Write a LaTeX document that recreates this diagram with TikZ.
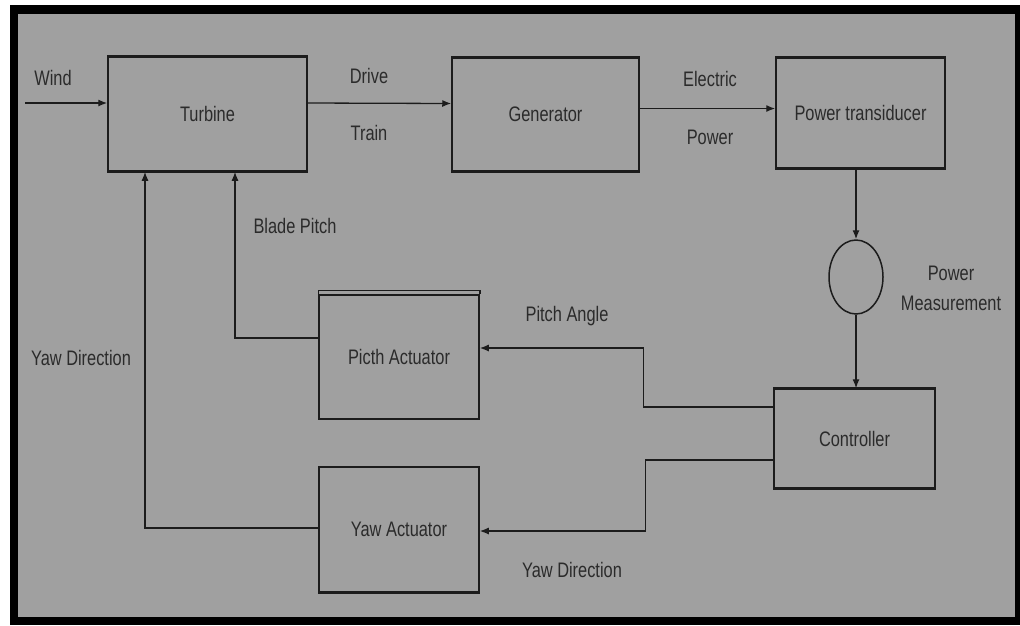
\documentclass[tikz,border=0pt]{standalone}
\usepackage{fontspec}
\setmainfont{Liberation Sans}[FakeStretch=0.78]
\usepackage{tikz}
\usetikzlibrary{arrows.meta}
\usetikzlibrary{shapes.geometric}
\usetikzlibrary{positioning}
\definecolor{mgray}{rgb}{0.627, 0.627, 0.627}
\definecolor{mline}{rgb}{0.11, 0.11, 0.11}
\definecolor{mtext}{rgb}{0.17, 0.17, 0.17}
\tikzset{blk/.style = {draw = mline, line width = 1.5, inner sep = 0, text = mtext}}
\tikzset{edge/.style = {draw = mline, line width = 3}}
\tikzset{flow/.style = {draw = mline, line width = 1.3, -{Latex[length = 9, width = 7]}}}
\tikzset{wire/.style = {draw = mline, line width = 1.3}}
\tikzset{lbl/.style = {text = mtext, inner sep = 0}}

\begin{document}
\begin{tikzpicture}[x = 1pt, y = -1pt, font = \fontsize{21}{26}\selectfont]
          \useasboundingbox (0, 0) rectangle (1020, 625);
          \fill [black] (10, 5) rectangle (1020, 625);
          \fill [mgray] (18, 14) rectangle (1015, 617);
          \node [blk, minimum width = 199, minimum height = 114] (turbine) at (207.5, 114) {Turbine};
          \node [blk, minimum width = 187, minimum height = 113] (generator) at (545.5, 114.5) {Generator};
          \node [blk, minimum width = 169, minimum height = 110] (transducer) at (860.5, 113) {Power transiducer};
          \node [blk, ellipse, minimum width = 54, minimum height = 74] (meas) at (856, 277) {};
          \node [blk, minimum width = 161, minimum height = 99] (controller) at (854.5, 438.5) {Controller};
          \node [blk, minimum width = 160, minimum height = 124] (pitch) at (399, 357) {Picth Actuator};
          \node [blk, minimum width = 160, minimum height = 125] (yaw) at (399, 529.5) {Yaw Actuator};
          \foreach \b in {turbine, transducer, controller} {
             \draw [edge] (\b.north west) -- (\b.north east);
             \draw [edge] (\b.south west) -- (\b.south east);
          }
          \draw [edge] (generator.north west) -- (generator.north east);
          \draw [edge] (generator.south west) -- (generator.south east);
          \draw [edge] (yaw.south west) -- (yaw.south east);
          \draw [blk] ([yshift = 4]pitch.north west) -- ([yshift = 4]pitch.north east) -- (pitch.north east);
          \draw [blk] ([yshift = 4]pitch.north west) -- (pitch.north west);
          \coordinate (windin) at (25, 103);
          \draw [flow] (windin) -- (windin -| turbine.west);
          \draw [flow] ([yshift = 11]turbine.east) -- ([yshift = 11]generator.west);
          \draw [flow] ([yshift = 6]generator.east) -- ([yshift = 6]generator.east -| transducer.west);
          \draw [flow] (transducer.south -| meas) -- (meas.north);
          \draw [flow] (meas.south) -- (meas.south |- controller.north);
          \draw [flow] ([yshift = 31.5]controller.west) -- ++(-130, 0) |- ([yshift = 9]pitch.east);
          \draw [flow] ([yshift = -21.5]controller.west) -- ++(-128, 0) |- ([yshift = -1.5]yaw.east);
          \draw [flow] ([yshift = 19]pitch.west) -| ([xshift = 27.5]turbine.south);
          \draw [flow] ([yshift = 1.5]yaw.west) -| ([xshift = -62.5]turbine.south);
          \node [lbl] (lwind) at (53, 78) {Wind};
          \node [lbl] (ldrive) at (369, 76) {Drive};
          \node [lbl] (ltrain) at (369, 133) {Train};
          \node [lbl] (lelec) at (710, 79) {Electric};
          \node [lbl] (lpower) at (710, 137) {Power};
          \node [lbl] (lblade) at (295, 226) {Blade Pitch};
          \node [lbl] (lyawl) at (81, 358) {Yaw Direction};
          \node [lbl, align = center] (lmeas) at (951, 288) {Power\\[4pt]Measurement};
          \node [lbl] (langle) at (567, 316) {Pitch Angle};
          \node [lbl] (lyawr) at (572, 570) {Yaw Direction};
        \end{tikzpicture}
\end{document}
